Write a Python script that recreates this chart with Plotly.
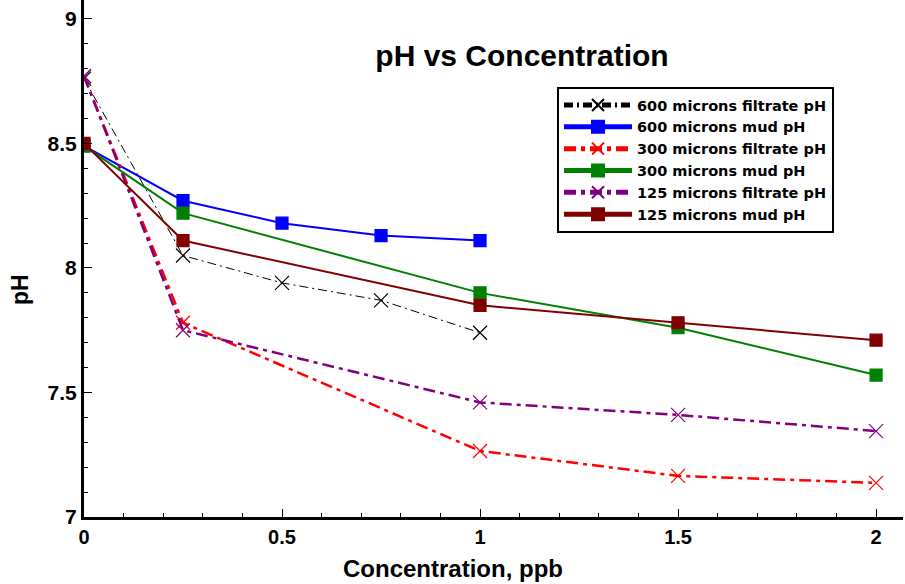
import plotly.graph_objects as go

x600 = [0, 0.25, 0.5, 0.75, 1]
x_other = [0, 0.25, 1, 1.5, 2]

f600 = [8.76, 8.05, 7.94, 7.87, 7.74]
m600 = [8.49, 8.27, 8.18, 8.13, 8.11]
f300 = [8.77, 7.78, 7.265, 7.165, 7.137]
m300 = [8.49, 8.22, 7.90, 7.76, 7.57]
f125 = [8.77, 7.75, 7.46, 7.41, 7.345]
m125 = [8.50, 8.11, 7.85, 7.78, 7.71]

names = ["600 microns filtrate pH", "600 microns mud pH", "300 microns filtrate pH",
         "300 microns mud pH", "125 microns filtrate pH", "125 microns mud pH"]

FONT = "Liberation Sans, Arial"

fig = go.Figure()

def add(xv, yv, name, color, width, dash, symbol, msize):
    fig.add_trace(go.Scatter(
        x=xv, y=yv, name=name, mode="lines+markers",
        line=dict(color=color, width=width, dash=dash),
        marker=dict(symbol=symbol, size=msize, color=color,
                    line=dict(color=color, width=1.2)),
    ))

add(x600, f600, names[0], "black", 1, "9px,4px,2px,4px", "x-thin-open", 14)
add(x600, m600, names[1], "#0000ff", 2, "solid", "square", 12)
add(x_other, f300, names[2], "#ff0000", 2.5, "12px,5px,4px,5px", "x-thin-open", 14)
add(x_other, m300, names[3], "#008000", 2, "solid", "square", 12)
add(x_other, f125, names[4], "#800080", 2.5, "12px,5px,4px,5px", "x-thin-open", 14)
add(x_other, m125, names[5], "#800000", 2, "solid", "square", 12)

fig.update_layout(
    width=905, height=584,
    margin=dict(l=84, r=2, t=0, b=67),
    plot_bgcolor="white", paper_bgcolor="white",
    showlegend=True,
    title=dict(text="pH vs Concentration", x=522 / 905, xanchor="center",
               y=1 - 55 / 584, yanchor="middle",
               font=dict(family=FONT, size=30, color="black", weight="bold")),
    legend=dict(x=(557 - 84) / 819, y=1 - 87 / 517, xanchor="left", yanchor="top",
                bgcolor="white", bordercolor="black", borderwidth=2,
                itemwidth=68,
                font=dict(family="DejaVu Sans", size=14.5, color="black", weight="bold"),
                tracegroupgap=0, itemsizing="constant"),
    xaxis=dict(range=[0, 2.068], tickvals=[0, 0.5, 1, 1.5, 2],
               ticktext=["0", "0.5", "1", "1.5", "2"],
               showgrid=False, zeroline=False, showline=True, linecolor="black", linewidth=3,
               ticks="inside", ticklen=8, tickwidth=1, tickcolor="black",
               minor=dict(dtick=0.1, ticks="inside", ticklen=4, tickcolor="black", tickwidth=1),
               tickfont=dict(family=FONT, size=20, color="black", weight="bold")),
    yaxis=dict(range=[7, 9.076], tickvals=[7, 7.5, 8, 8.5, 9],
               ticktext=["7", "7.5", "8", "8.5", "9"],
               showgrid=False, zeroline=False, showline=True, linecolor="black", linewidth=3,
               ticks="inside", ticklen=8, tickwidth=1, tickcolor="black",
               minor=dict(dtick=0.1, ticks="inside", ticklen=4, tickcolor="black", tickwidth=1),
               tickfont=dict(family=FONT, size=21, color="black", weight="bold")),
    annotations=[
        dict(text="Concentration, ppb", xref="paper", yref="paper",
             x=(453 - 84) / 819, y=-(568 - 517) / 517, xanchor="center", yanchor="middle",
             showarrow=False, font=dict(family=FONT, size=24, color="black", weight="bold")),
        dict(text="pH", xref="paper", yref="paper", textangle=-90,
             x=-(84 - 20) / 819, y=1 - 290 / 517, xanchor="center", yanchor="middle",
             showarrow=False, font=dict(family=FONT, size=23, color="black", weight="bold")),
    ],
)

fig.write_html("out.html")
